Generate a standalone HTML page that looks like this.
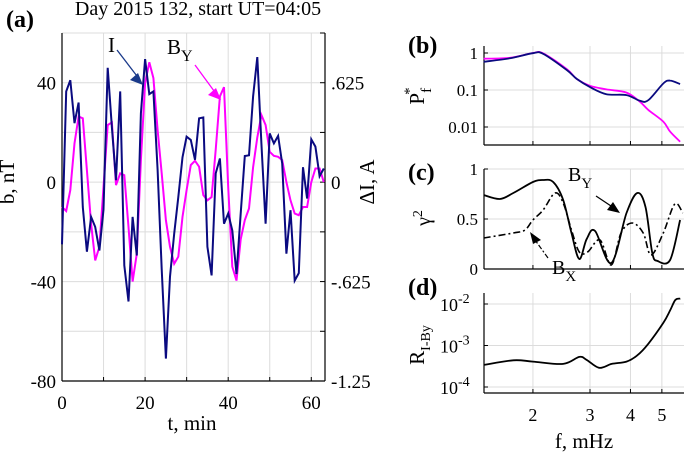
<!DOCTYPE html>
<html><head><meta charset="utf-8">
<style>
html,body{margin:0;padding:0;background:#fff;}
svg{display:block;font-family:"Liberation Serif",serif;}
</style></head>
<body>
<svg id="fig" width="685" height="453" viewBox="0 0 685 453" xmlns="http://www.w3.org/2000/svg">
<text x="6" y="27" font-size="24" font-weight="bold">(a)</text>
<text x="198" y="15" font-size="20" text-anchor="middle">Day 2015 132, start UT=04:05</text>
<text x="408" y="53" font-size="24" font-weight="bold">(b)</text>
<text x="408" y="180" font-size="24" font-weight="bold">(c)</text>
<text x="408" y="295" font-size="24" font-weight="bold">(d)</text>
<g id="ga"></g>
<g id="gb"></g>
<g id="gc"></g>
<g id="gd"></g>
</svg>
<script>
// ---- Panel (a) data ----
const tMin = [0,1,2,3,4,5,6,7,8,9,10,11,12,13,14,15,16,17,18,19,20,21,22,23,24,25,26,27,28,29,30,31,32,33,34,35,36,37,38,39,40,41,42,43,44,45,46,47,48,49,50,51,52,53,54,55,56,57,58,59,60,61,62,63];
const seriesI = [-25,36.5,41,23.7,32,-10,-28,-14,-18,-27.5,-11,46,22,0.8,36.5,-33.5,-48,-14,-29.5,27.7,49.5,35.4,36.5,5,-35,-71,-38,-20.7,-6,10,18.3,17,9,25.7,26,-26,-37.5,3.5,9.5,-16.7,-12.6,-19.4,-37,-12.6,10.5,10.8,34.5,50.3,15.6,-16.7,19.6,15.6,18.6,7.5,-28.8,-11.3,-39.6,-36.6,6,-6.6,17.2,14.3,2.4,5.5];
const seriesBY = [-10,-11.6,-3.2,15.6,26.4,25.7,4.8,-16.7,-31.5,-26,-2,23,24,-1.2,3.5,2.8,-18,-40,-28.8,8.9,39.8,48.2,41.9,21,3.5,-15.3,-26,-32.8,-30,-14,-3.2,6.9,8.6,6.2,-5.2,-7.3,-6,13,34.5,38.2,-2,-34,-39.6,-23,-15.3,-10.6,6,18,27,23,12.2,10.6,10.2,8.9,0,-7.3,-12.6,-13.3,-10,-10,0,5.5,5.5,0];
const aXTicks = [0,20,40,60];
const aYTicks = [-80,-40,0,40];
const aRightTickLabels = ["-1.25","-.625","0",".625"];
// ---- Spectra data ----
const fB = [1.41,1.7,2.0,2.15,2.54,2.73,3.0,3.37,3.89,4.28,4.54,5.05,5.3,5.69];
const pNavy = [0.58,0.72,0.99,0.95,0.35,0.2,0.12,0.077,0.073,0.051,0.053,0.15,0.18,0.145];
const pMag = [0.70,0.74,1.0,0.98,0.37,0.2,0.13,0.104,0.085,0.048,0.029,0.014,0.0075,0.004];
const fC1 = [1.41,1.58,1.74,2.0,2.15,2.31,2.48,2.63,2.78,2.93,3.11,3.49,3.89,4.2,4.45,4.67,4.85,5.3,5.69];
const cohBY = [0.74,0.70,0.76,0.87,0.89,0.87,0.69,0.36,0.10,0.30,0.38,0.06,0.56,0.76,0.62,0.16,0.08,0.09,0.49];
const fC2 = [1.41,1.74,1.89,2.0,2.15,2.34,2.48,2.63,2.78,2.95,3.22,3.49,3.74,4.05,4.38,4.63,5.05,5.48,5.8];
const cohBX = [0.31,0.36,0.39,0.49,0.59,0.76,0.66,0.39,0.17,0.17,0.29,0.04,0.36,0.46,0.36,0.14,0.36,0.65,0.56];
const fD = [1.41,1.74,2.0,2.48,2.78,2.93,3.2,3.5,3.89,4.2,4.54,5.05,5.3,5.5,5.7];
const ratioR = [3.4e-4,4.4e-4,4.1e-4,3.6e-4,5.3e-4,4.5e-4,2.9e-4,3.6e-4,4.1e-4,5.8e-4,1.1e-3,3.5e-3,7e-3,1.25e-2,1.35e-2];
const fTicks = [2,3,4,5];
const bTicks = [1,0.1,0.01];
const bTickLabels = ["1","0.1","0.01"];
const cTicks = [0,0.5,1];
const cTickLabels = ["0","0.5","1"];
const dTicks = [1e-4,1e-3,1e-2];
const dTickExp = ["-4","-3","-2"];

const NS="http://www.w3.org/2000/svg";
function mk(parent,tag,attrs,name,txt){
  const e=document.createElementNS(NS,tag);
  for(const k in attrs)e.setAttribute(k,attrs[k]);
  
  
  if(txt!==undefined)e.textContent=txt;
  parent.appendChild(e);return e;
}
function poly(xs,ys,fx,fy){return xs.map((v,i)=>fx(v).toFixed(1)+','+fy(ys[i]).toFixed(1)).join(' ');}
function smooth(xs,ys,fx,fy){
  const p=xs.map((v,i)=>[fx(v),fy(ys[i])]);
  let d='M'+p[0][0].toFixed(1)+','+p[0][1].toFixed(1);
  for(let i=0;i<p.length-1;i++){
    const p0=p[Math.max(0,i-1)],p1=p[i],p2=p[i+1],p3=p[Math.min(p.length-1,i+2)];
    const c1=[p1[0]+(p2[0]-p0[0])/6,p1[1]+(p2[1]-p0[1])/6];
    const c2=[p2[0]-(p3[0]-p1[0])/6,p2[1]-(p3[1]-p1[1])/6];
    d+=' C'+c1.map(n=>n.toFixed(1)).join(',')+' '+c2.map(n=>n.toFixed(1)).join(',')+' '+p2[0].toFixed(1)+','+p2[1].toFixed(1);
  }
  return d;
}

// Panel a
const ga=document.getElementById('ga');
const aL=62,aR=325,aT=33,aB=381;
const ax=t=>aL+t*(aR-aL)/63.3;
const ay=v=>aB-(v+80)*(aB-aT)/140;
for(let t=10;t<=60;t+=10)mk(ga,'line',{x1:ax(t),x2:ax(t),y1:aT,y2:aB,stroke:'#dcdcdc','stroke-width':1},'grid-v');
for(let v=-60;v<=60;v+=20)mk(ga,'line',{x1:aL,x2:aR,y1:ay(v),y2:ay(v),stroke:'#dcdcdc','stroke-width':1},'grid-h');
mk(ga,'line',{x1:aL,x2:aL,y1:aT,y2:aB,stroke:'#000','stroke-width':1.2},'left-axis');
mk(ga,'line',{x1:aL,x2:aR,y1:aB,y2:aB,stroke:'#000','stroke-width':1.2},'x-axis');
mk(ga,'line',{x1:aR,x2:aR,y1:aT,y2:aB,stroke:'#000','stroke-width':1.2},'right-axis');
aXTicks.forEach(t=>{
  mk(ga,'text',{x:ax(t),y:aB+28,'font-size':19,'text-anchor':'middle'},'x-tick-label',String(t));
});
for(let t=10;t<=60;t+=10)mk(ga,'line',{x1:ax(t),x2:ax(t),y1:aB,y2:aB-4,stroke:'#000'},'x-tick');
aYTicks.forEach(v=>{
  mk(ga,'text',{x:aL-6,y:ay(v)+7,'font-size':19,'text-anchor':'end'},'y-tick-label',String(v));
});
for(let v=-80;v<=60;v+=20)mk(ga,'line',{x1:aR,x2:aR-5,y1:ay(v),y2:ay(v),stroke:'#000'},'right-tick');
aYTicks.forEach((v,i)=>{
  mk(ga,'text',{x:aR+6,y:ay(v)+7,'font-size':19},'right-tick-label',aRightTickLabels[i]);
});
mk(ga,'text',{x:192,y:430,'font-size':21,'text-anchor':'middle'},'x-axis-title','t, min');
mk(ga,'text',{x:14,y:182,'font-size':21,'text-anchor':'middle',transform:'rotate(-90 14 182)'},'y-axis-title','b, nT');
mk(ga,'text',{x:374,y:182,'font-size':21,'text-anchor':'middle',transform:'rotate(-90 374 182)'},'right-axis-title','\u0394I, A');
mk(ga,'polyline',{points:poly(tMin,seriesBY,ax,ay),fill:'none',stroke:'#ff00ff','stroke-width':2},'series-by');
mk(ga,'polyline',{points:poly(tMin,seriesI,ax,ay),fill:'none',stroke:'#0a0a80','stroke-width':2},'series-i');
mk(ga,'text',{x:108,y:52,'font-size':21},'label-i','I');
mk(ga,'line',{x1:117,y1:50,x2:140,y2:80,stroke:'#1a3a8a','stroke-width':1.3},'arrow-i');
mk(ga,'polygon',{points:'143,85 130,80 138,73',fill:'#1a3a8a'},'arrow-i-head');
const byl=mk(ga,'text',{x:167,y:54,'font-size':21},'label-by','B');
const ys1=document.createElementNS(NS,'tspan');ys1.setAttribute('dy','7');ys1.setAttribute('font-size','16');ys1.textContent='Y';byl.appendChild(ys1);
mk(ga,'line',{x1:195,y1:65,x2:217,y2:95,stroke:'#ff00ff','stroke-width':1.3},'arrow-by');
mk(ga,'polygon',{points:'221,100 208,95 216,88',fill:'#ff00ff'},'arrow-by-head');

// Right panels x-axis
const fL=484,fR=684;
const fx=f=>fL+(Math.log10(f)-0.150)*324;
function panel(g,top,bot,hgrid){
  fTicks.forEach(f=>mk(g,'line',{x1:fx(f),x2:fx(f),y1:top,y2:bot,stroke:'#dcdcdc'},'grid-v'));
  hgrid.forEach(y=>mk(g,'line',{x1:fL,x2:fR,y1:y,y2:y,stroke:'#dcdcdc'},'grid-h'));
  mk(g,'line',{x1:fL,x2:fL,y1:top,y2:bot,stroke:'#000','stroke-width':1.2},'left-axis');
  mk(g,'line',{x1:fL,x2:fR,y1:bot,y2:bot,stroke:'#000','stroke-width':1.2},'x-axis');
  fTicks.forEach(f=>mk(g,'line',{x1:fx(f),x2:fx(f),y1:bot,y2:bot-4,stroke:'#000'},'x-tick'));
}
// b
const gb=document.getElementById('gb');
const by=v=>53-37*Math.log10(v);
panel(gb,46,145,bTicks.map(by));
bTicks.forEach((v,i)=>{mk(gb,'line',{x1:fL,x2:fL+4,y1:by(v),y2:by(v),stroke:'#000'},'y-tick');
  mk(gb,'text',{x:fL-6,y:by(v)+6,'font-size':17,'text-anchor':'end'},'y-tick-label',bTickLabels[i]);});
const pl=mk(gb,'text',{x:424,y:96,'font-size':21,'text-anchor':'middle',transform:'rotate(-90 424 96)'},'y-axis-title','P');
const ps=document.createElementNS(NS,'tspan');ps.setAttribute('dy','7');ps.setAttribute('font-size','15');ps.textContent='f';pl.appendChild(ps);
const ps2=document.createElementNS(NS,'tspan');ps2.setAttribute('dy','-17');ps2.setAttribute('dx','-7');ps2.setAttribute('font-size','15');ps2.textContent='*';pl.appendChild(ps2);
mk(gb,'path',{d:smooth(fB,pMag,fx,by),fill:'none',stroke:'#ff00ff','stroke-width':1.8},'spectrum-by');
mk(gb,'path',{d:smooth(fB,pNavy,fx,by),fill:'none',stroke:'#0a0a80','stroke-width':1.8},'spectrum-i');
// c
const gc=document.getElementById('gc');
const cy=v=>269-v*100;
panel(gc,169,269,[cy(0.5),cy(1)]);
cTicks.forEach((v,i)=>{mk(gc,'line',{x1:fL,x2:fL+4,y1:cy(v),y2:cy(v),stroke:'#000'},'y-tick');
  mk(gc,'text',{x:fL-6,y:cy(v)+6,'font-size':17,'text-anchor':'end'},'y-tick-label',cTickLabels[i]);});
const gl=mk(gc,'text',{x:430,y:218,'font-size':20,'text-anchor':'middle',transform:'rotate(-90 430 218)'},'y-axis-title','\u03b3');
const gs=document.createElementNS(NS,'tspan');gs.setAttribute('dy','-8');gs.setAttribute('font-size','14');gs.textContent='2';gl.appendChild(gs);
mk(gc,'path',{d:smooth(fC2,cohBX,fx,cy),fill:'none',stroke:'#000','stroke-width':1.6,'stroke-dasharray':'7 3 2 3'},'coherence-bx');
mk(gc,'path',{d:smooth(fC1,cohBY,fx,cy),fill:'none',stroke:'#000','stroke-width':1.8},'coherence-by');
const cby=mk(gc,'text',{x:568,y:181,'font-size':20},'label-by','B');
const cs1=document.createElementNS(NS,'tspan');cs1.setAttribute('dy','7');cs1.setAttribute('font-size','15');cs1.textContent='Y';cby.appendChild(cs1);
mk(gc,'line',{x1:596,y1:196,x2:614,y2:208,stroke:'#000','stroke-width':1.2},'arrow-by');
mk(gc,'polygon',{points:'620,213 607,210 613,202',fill:'#000'},'arrow-by-head');
const cbx=mk(gc,'text',{x:552,y:274,'font-size':20},'label-bx','B');
const cs2=document.createElementNS(NS,'tspan');cs2.setAttribute('dy','7');cs2.setAttribute('font-size','15');cs2.textContent='X';cbx.appendChild(cs2);
mk(gc,'line',{x1:548,y1:258,x2:535,y2:240,stroke:'#000','stroke-width':1.2,'stroke-dasharray':'5 2 2 2'},'arrow-bx');
mk(gc,'polygon',{points:'530,232 541,240 533,244',fill:'#000'},'arrow-bx-head');
// d
const gd=document.getElementById('gd');
const dy=v=>304-41.5*(Math.log10(v)+2);
panel(gd,293,393,dTicks.map(dy));
dTicks.forEach((v,i)=>{mk(gd,'line',{x1:fL,x2:fL+4,y1:dy(v),y2:dy(v),stroke:'#000'},'y-tick');
  mk(gd,'text',{x:fL-26,y:dy(v)+7,'font-size':18,'text-anchor':'end'},'y-tick-label','10');
  mk(gd,'text',{x:fL-26,y:dy(v)-1,'font-size':14},'y-tick-exponent',dTickExp[i]);});
const rl=mk(gd,'text',{x:424,y:345,'font-size':21,'text-anchor':'middle',transform:'rotate(-90 424 345)'},'y-axis-title','R');
const rs=document.createElementNS(NS,'tspan');rs.setAttribute('dy','6');rs.setAttribute('font-size','14');rs.textContent='I-By';rl.appendChild(rs);
mk(gd,'path',{d:smooth(fD,ratioR,fx,dy),fill:'none',stroke:'#000','stroke-width':1.8},'ratio-curve');
fTicks.forEach(f=>mk(gd,'text',{x:fx(f),y:421,'font-size':18,'text-anchor':'middle'},'x-tick-label',String(f)));
mk(gd,'text',{x:584,y:448,'font-size':21,'text-anchor':'middle'},'x-axis-title','f, mHz');
</script>
</body></html>
